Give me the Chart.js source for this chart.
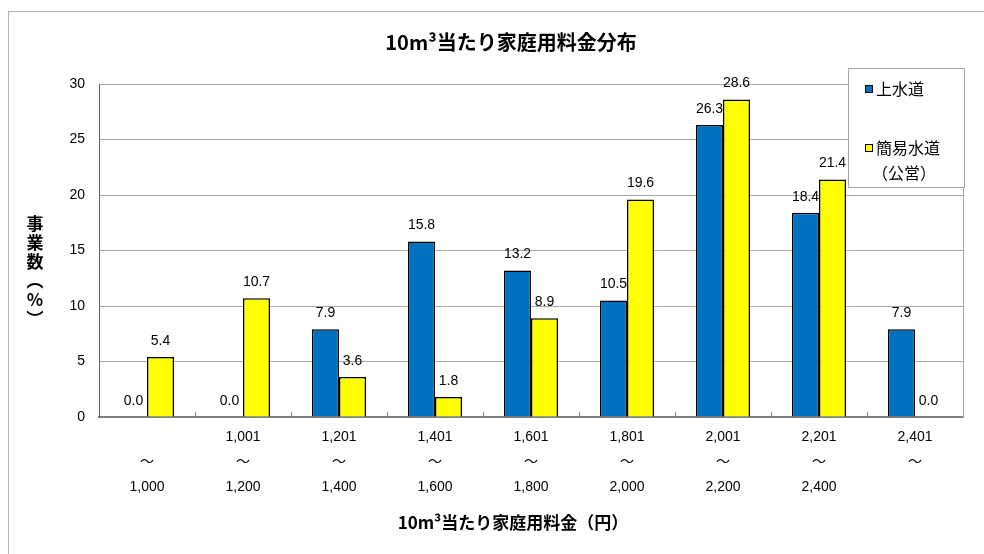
<!DOCTYPE html>
<html>
<head>
<meta charset="utf-8">
<script src="https://cdn.jsdelivr.net/npm/chart.js@4.4.0/dist/chart.umd.min.js"></script>
<style>
  html, body { margin: 0; padding: 0; background: #fff; overflow: hidden; }
  #frame { position: absolute; left: 8px; top: 11px; width: 1100px; height: 700px; border: 1px solid #b4b4b4; box-sizing: border-box; }
  #wrap { position: absolute; left: 0; top: 0; width: 984px; height: 554px; }
</style>
</head>
<body>
<div id="frame"></div>
<div id="wrap"><canvas id="c" width="984" height="554"></canvas></div>
<script>
// ---- data ----
const categories = [
  ["", "～", "1,000"],
  ["1,001", "～", "1,200"],
  ["1,201", "～", "1,400"],
  ["1,401", "～", "1,600"],
  ["1,601", "～", "1,800"],
  ["1,801", "～", "2,000"],
  ["2,001", "～", "2,200"],
  ["2,201", "～", "2,400"],
  ["2,401", "～", ""]
];
const seriesNames = [["上水道"], ["簡易水道", "（公営）"]];
const josuido = [0.0, 0.0, 7.9, 15.8, 13.2, 10.5, 26.3, 18.4, 7.9];
const kanisuido = [5.4, 10.7, 3.6, 1.8, 8.9, 19.6, 28.6, 21.4, 0.0];
const yTicks = [0, 5, 10, 15, 20, 25, 30];
const chartTitle = "10m³当たり家庭用料金分布";
const xTitle = "10m³当たり家庭用料金（円）";
const yTitle = "事業数（%）";

const numFont = "'Liberation Sans', 'Noto Sans CJK JP', sans-serif";
const jpFont = "'Noto Sans CJK JP', sans-serif";

const decorPlugin = {
  id: 'decor',
  beforeDatasetsDraw(chart) {
    const ctx = chart.ctx, a = chart.chartArea;
    ctx.save();
    ctx.strokeStyle = '#a6a6a6';
    ctx.lineWidth = 1;
    ctx.beginPath();
    ctx.moveTo(Math.round(a.right) + 0.5, a.top);
    ctx.lineTo(Math.round(a.right) + 0.5, a.bottom);
    ctx.stroke();
    const xs = chart.scales.x;
    ctx.strokeStyle = '#808080';
    for (let i = 0; i < categories.length - 1; i++) {
      const bx = Math.round((xs.getPixelForValue(i) + xs.getPixelForValue(i + 1)) / 2) + 0.5;
      ctx.beginPath();
      ctx.moveTo(bx, a.bottom - 5);
      ctx.lineTo(bx, a.bottom);
      ctx.stroke();
    }
    ctx.restore();
  },
  afterDatasetsDraw(chart) {
    const ctx = chart.ctx;
    ctx.save();
    ctx.fillStyle = '#000';
    ctx.font = "14px " + numFont;
    ctx.textAlign = 'center';
    ctx.textBaseline = 'middle';
    chart.data.datasets.forEach((ds, di) => {
      const meta = chart.getDatasetMeta(di);
      meta.data.forEach((el, i) => {
        ctx.fillText(ds.data[i].toFixed(1), el.x, el.y - 16);
      });
    });
    // legend box
    const lx = 848, ly = 68, lw = 116, lh = 119;
    ctx.fillStyle = '#fff';
    ctx.fillRect(lx, ly, lw, lh);
    ctx.strokeStyle = '#a6a6a6';
    ctx.lineWidth = 1;
    ctx.strokeRect(lx + 0.5, ly + 0.5, lw, lh);
    const entryY = [89, 148];
    chart.data.datasets.forEach((ds, di) => {
      const y = entryY[di];
      ctx.fillStyle = ds.backgroundColor;
      ctx.fillRect(865, y - 4, 8, 8);
      ctx.strokeStyle = '#000';
      ctx.lineWidth = 1;
      ctx.strokeRect(865.5, y - 3.5, 7, 7);
      ctx.fillStyle = '#000';
      ctx.font = "16px " + jpFont;
      ctx.textAlign = 'left';
      ctx.textBaseline = 'middle';
      seriesNames[di].forEach((line, li) => {
        ctx.fillText(line, 876 - (li > 0 ? 4 : 0), y + li * 25);
      });
    });
    ctx.restore();
  },
  afterDraw(chart) {
    const ctx = chart.ctx;
    ctx.save();
    ctx.fillStyle = '#000';
    ctx.textAlign = 'center';
    ctx.textBaseline = 'middle';
    ctx.font = "bold 20px " + jpFont;
    ctx.fillText(chartTitle, 511, 42);
    ctx.font = "bold 17px " + jpFont;
    ctx.fillText(xTitle, 513, 523);
    const map = { '（': '︵', '）': '︶' };
    Array.from(yTitle).forEach((ch, i) => {
      ctx.font = "bold 17px " + jpFont;
      ctx.fillText(map[ch] || ch, 35, 224 + i * 19);
    });
    ctx.restore();
  }
};

new Chart(document.getElementById('c'), {
  type: 'bar',
  data: {
    labels: categories,
    datasets: [
      { label: seriesNames[0].join(''), data: josuido, backgroundColor: '#0070C0', borderColor: '#000', borderWidth: 1.5 },
      { label: seriesNames[1].join(''), data: kanisuido, backgroundColor: '#FFFF00', borderColor: '#000', borderWidth: 1.5 }
    ]
  },
  options: {
    responsive: false,
    animation: false,
    devicePixelRatio: 1,
    layout: { padding: { left: 0, top: 84, right: 21, bottom: 0 } },
    plugins: { legend: { display: false }, title: { display: false }, tooltip: { enabled: false } },
    datasets: { bar: { categoryPercentage: 0.5625, barPercentage: 1.0 } },
    scales: {
      x: {
        grid: { display: true, drawOnChartArea: false, drawTicks: false },
        border: { display: true, color: '#808080', width: 2 },
        ticks: { color: '#000', font: { family: numFont, size: 14, lineHeight: 25 / 14 }, padding: 8, maxRotation: 0, autoSkip: false },
        afterFit(s) { s.height = 137; }
      },
      y: {
        min: 0, max: 30,
        afterBuildTicks(s) { s.ticks = yTicks.map(v => ({ value: v })); },
        grid: { color: '#a6a6a6', drawTicks: false },
        border: { display: true, color: '#606060', width: 1 },
        ticks: { color: '#000', font: { family: numFont, size: 14 }, padding: 14 },
        afterFit(s) { s.width = 99; }
      }
    }
  },
  plugins: [decorPlugin]
});
</script>
</body>
</html>
